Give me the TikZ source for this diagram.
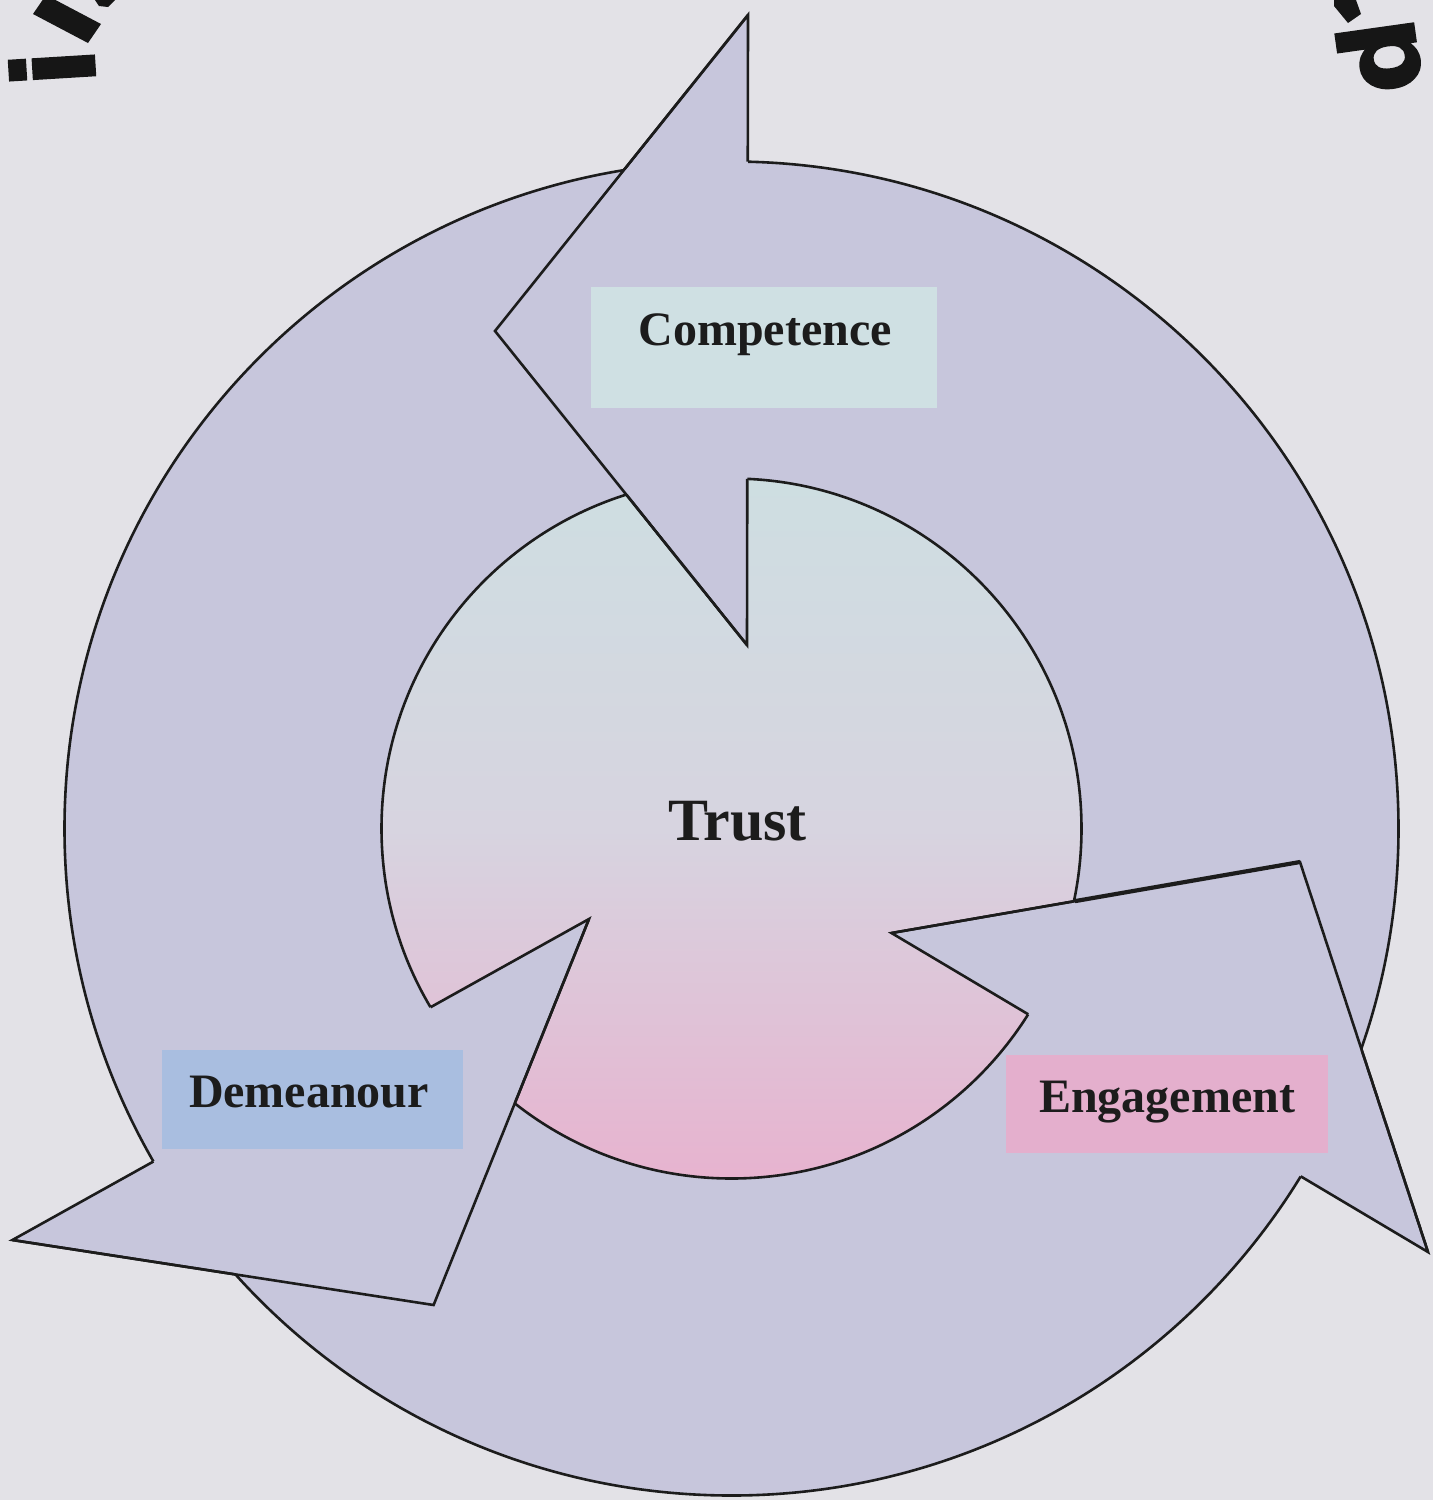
\documentclass[tikz,border=0pt]{standalone}
\usepackage{fontspec}
\setmainfont{Liberation Serif}
\newfontfamily\heavyfont[FakeBold=2]{DejaVu Sans}
\usetikzlibrary{calc}
\definecolor{paper}{HTML}{E3E2E7}
\definecolor{ringc}{HTML}{C7C6DC}
\definecolor{compc}{HTML}{CFE0E3}
\definecolor{demc}{HTML}{A9BEE0}
\definecolor{engc}{HTML}{E4AFCD}
\definecolor{inktop}{HTML}{CEDEE1}
\definecolor{inkmid}{HTML}{D7D4E0}
\definecolor{inkbot}{HTML}{E7B3CF}
\definecolor{linec}{HTML}{1C1C1C}
\definecolor{fragc}{HTML}{161616}
\begin{document}
\begin{tikzpicture}[x=0.5pt,y=-0.5pt,
  edge/.style={draw=linec,line width=1.3pt,line join=miter},
  labelbox/.style={rectangle,inner sep=0pt,draw=none},
  lbl/.style={font=\bfseries\fontsize{24}{28}\selectfont,text=linec,inner sep=0pt,anchor=base},
  frag/.style={fill=fragc},
  fragtext/.style={font=\heavyfont\bfseries\fontsize{56}{56}\selectfont,text=fragc,inner sep=0pt}]
\useasboundingbox (0,0) rectangle (1433,1500);
\clip (0,0) rectangle (1433,1500);
\fill[paper] (0,0) rectangle (1433,1500);

% centre and arrowhead vertices (A = outer base end, T = tip, I = inner base end)
\coordinate (O) at (731.5,828.5);
\coordinate (cA) at (748,15);      \coordinate (cT) at (495,331);    \coordinate (cI) at (747,645);
\coordinate (eA) at (1428,1252);   \coordinate (eT) at (1300,862);   \coordinate (eI) at (891.5,933);
\coordinate (dA) at (12.4,1240);   \coordinate (dT) at (433.6,1305); \coordinate (dI) at (589,919);

% inner "Trust" disc
\shade[top color=inktop, bottom color=inkbot, middle color=inkmid] (O) circle (175pt);
% ring
\fill[ringc, even odd rule] (O) circle (333.5pt) (O) circle (175pt);
\draw[edge] (O) circle (333.5pt);
\draw[edge] (O) circle (175pt);

% arrowheads
\fill[ringc] (cA) -- (cT) -- (cI) -- cycle;
\fill[ringc] (eA) -- (eT) -- (eI) -- cycle;
\fill[ringc] (dA) -- (dT) -- (dI) -- cycle;

% base edges, visible only outside the ring
\begin{scope}[even odd rule]
  \clip (0,0) rectangle (1433,1500) (O) circle (333.5pt) (O) circle (175pt);
  \draw[edge] (cA) -- (cT) -- (cI) -- cycle;
  \draw[edge] (eA) -- (eT) -- (eI) -- cycle;
  \draw[edge] (dA) -- (dT) -- (dI) -- cycle;
\end{scope}
% head edges
\draw[edge] (cI) -- (cT) -- (cA);
\draw[edge] (eI) -- (eT) -- (eA);
\draw[edge] (dI) -- (dT) -- (dA);
\draw[draw=linec,line width=2.1pt] ($(eI)!0.449!(eT)$) -- (eT);

% labels
\node[labelbox, fill=compc, minimum width=173pt, minimum height=60.5pt] (compbox) at (764,347.5) {};
\node[lbl] (comp) at (765,345) {Competence};
\node[labelbox, fill=demc, minimum width=150.5pt, minimum height=49.5pt] (dembox) at (312.2,1099.7) {};
\node[lbl] (dem) at (309,1107) {Demeanour};
\node[labelbox, fill=engc, minimum width=161pt, minimum height=49pt] (engbox) at (1167,1104) {};
\node[lbl] (eng) at (1167,1112) {Engagement};
\node[lbl, font=\bfseries\fontsize{30}{34}\selectfont] (trust) at (737.5,840) {Trust};

% fragments of the arched title at the top corners
\node[fragtext, rotate=93.5] (fragi) at (52,68) {i};
\node[fragtext, font=\heavyfont\bfseries\fontsize{52}{52}\selectfont, rotate=-82] (fragp) at (1379,57) {p};
\fill[frag] (33,14) -- (88,43) -- (101,24) -- (55.5,0) -- (42.6,0) -- cycle;
\fill[frag] (95,0) -- (115,0) -- (108,7) -- (99,6) -- cycle;
\fill[frag] (1334,0) -- (1334,6) -- (1348,23) -- (1361,14) -- (1356,0) -- cycle;
\end{tikzpicture}
\end{document}
